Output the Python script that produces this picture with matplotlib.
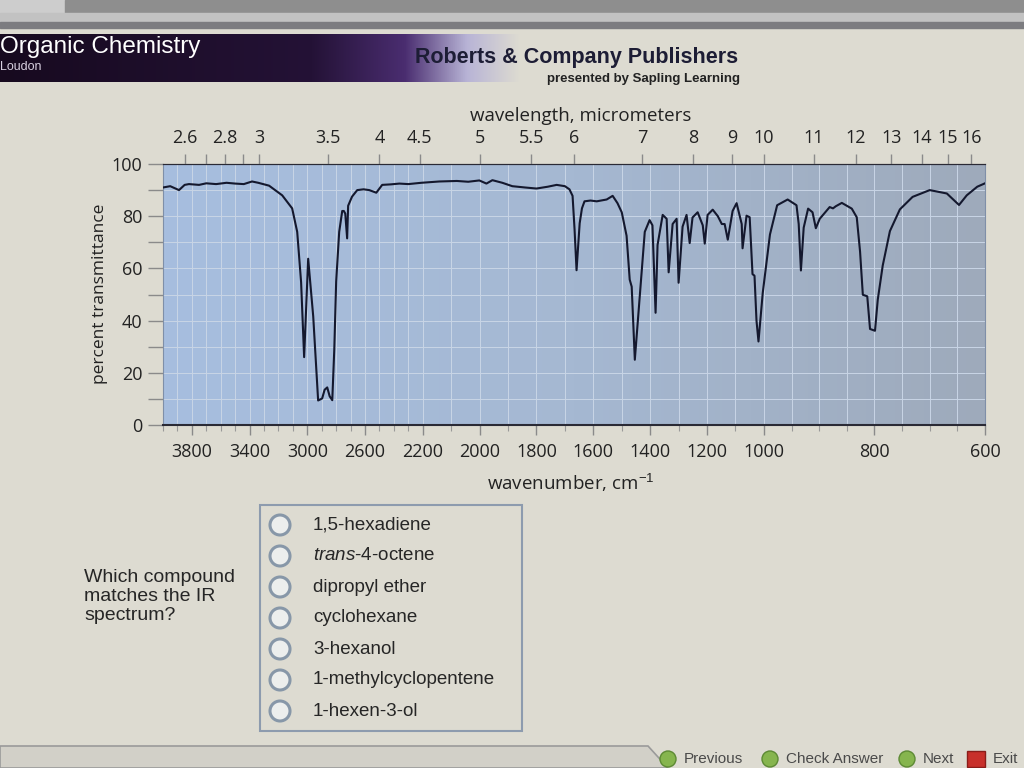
import numpy as np
import matplotlib.pyplot as plt
from matplotlib.patches import Rectangle, Circle, Polygon
from matplotlib.colors import LinearSegmentedColormap

plt.rcParams['mathtext.fontset'] = 'custom'
plt.rcParams['mathtext.rm'] = 'Liberation Sans'
plt.rcParams['mathtext.it'] = 'Liberation Sans:italic'

# IR spectrum: wavenumber (cm-1) and percent transmittance
wavenumber = [4000, 3950, 3889, 3850, 3820, 3750, 3700, 3632, 3560, 3500, 3440, 3383, 3340,
              3265, 3174, 3105, 3070, 3043, 3022, 2994, 2959, 2925, 2910, 2897, 2880, 2862,
              2845, 2827, 2813, 2800, 2779, 2758, 2747, 2737, 2724, 2717, 2690, 2654, 2610,
              2571, 2522, 2481, 2420, 2362, 2300, 2210, 2142, 2080, 2040, 2001, 1976, 1955,
              1920, 1885, 1840, 1800, 1760, 1729, 1700, 1684, 1673, 1666, 1659, 1648, 1640,
              1631, 1610, 1588, 1553, 1532, 1515, 1500, 1483, 1472, 1465, 1454, 1437, 1419,
              1402, 1392, 1381, 1374, 1356, 1342, 1335, 1321, 1307, 1300, 1286, 1272, 1261,
              1251, 1233, 1215, 1208, 1198, 1180, 1162, 1148, 1138, 1127, 1110, 1096, 1078,
              1075, 1061, 1050, 1040, 1033, 1026, 1019, 1004, 989, 976, 957, 941, 937, 933,
              928, 920, 912, 906, 899, 881, 875, 870, 859, 841, 832, 826, 821, 813, 808, 799,
              794, 785, 772, 754, 731, 700, 669, 647, 633, 614, 600]
transmittance = [91.0, 91.5, 90.0, 92.0, 92.3, 92.0, 92.6, 92.3, 92.8, 92.5, 92.3, 93.3, 92.8,
                 91.7, 88.0, 83.0, 74.0, 54.7, 26.0, 63.7, 41.6, 9.4, 9.8, 10.2, 13.5, 14.4,
                 11.0, 9.5, 29.0, 55.0, 74.0, 82.0, 82.0, 81.0, 71.5, 84.0, 87.5, 90.0, 90.3,
                 90.0, 89.0, 92.0, 92.2, 92.5, 92.3, 92.8, 93.3, 93.5, 93.2, 93.7, 92.5, 93.8,
                 92.8, 91.5, 91.0, 90.6, 91.3, 92.0, 91.5, 90.3, 87.8, 75.0, 59.3, 77.3, 83.0,
                 85.7, 86.0, 85.7, 86.4, 87.8, 85.0, 81.5, 72.5, 55.7, 53.0, 25.0, 49.0, 74.0,
                 78.5, 76.5, 43.0, 69.0, 80.5, 79.0, 58.5, 77.0, 79.0, 54.5, 76.0, 80.5, 69.7,
                 79.5, 81.5, 76.5, 69.5, 80.5, 82.5, 80.0, 77.0, 77.0, 71.0, 82.0, 85.0, 77.0,
                 67.7, 80.2, 79.6, 57.8, 57.2, 40.0, 32.0, 50.6, 73.0, 84.2, 86.4, 84.2, 77.0, 59.2,
                 75.6, 82.9, 81.5, 75.4, 79.0, 83.5, 83.0, 83.8, 85.1, 82.9, 79.6, 66.4, 49.9, 49.3, 36.8, 36.1,
                 48.0, 61.1, 74.3, 82.6, 87.4, 90.0, 88.7, 84.3, 88.0, 91.3, 92.6]

wn_ticks = [3800, 3400, 3000, 2600, 2200, 2000, 1800, 1600, 1400, 1200, 1000, 800, 600]
um_ticks = [2.6, 2.8, 3, 3.5, 4, 4.5, 5, 5.5, 6, 7, 8, 9, 10, 11, 12, 13, 14, 15, 16]
um_labels = ['2.6', '2.8', '3', '3.5', '4', '4.5', '5', '5.5', '6', '7', '8', '9', '10',
             '11', '12', '13', '14', '15', '16']
um_minor = [2.7, 2.9]
pt_ticks = [0, 20, 40, 60, 80, 100]
pt_minor = [10, 30, 50, 70, 90]
grid_wn = list(range(4000, 2200, -100)) + list(range(2200, 1000, -100)) + list(range(1000, 599, -50))

choices = ['1,5-hexadiene', r'$\mathit{trans}$-4-octene', 'dipropyl ether', 'cyclohexane',
           '3-hexanol', '1-methylcyclopentene', '1-hexen-3-ol']
question = ['Which compound', 'matches the IR', 'spectrum?']

# the chart's wavenumber axis is compressed in three pieces
brk_w = [600, 1000, 2200, 4000]
brk_p = [0.0, 0.269, 0.684, 1.0]

def fwd(w):
    return np.interp(w, brk_w, brk_p)

def inv(p):
    return np.interp(p, brk_p, brk_w)

W, H = 1024, 768
page = '#dddbd1'
fig = plt.figure(figsize=(10.24, 7.68), dpi=100)
fig.patch.set_facecolor(page)

# page background in pixel coordinates
bg = fig.add_axes([0, 0, 1, 1], zorder=0)
bg.set_xlim(0, W)
bg.set_ylim(H, 0)
bg.axis('off')

bg.add_patch(Rectangle((0, 0), 65, 13, color='#cdcdcd'))
bg.add_patch(Rectangle((65, 0), W - 65, 13, color='#8e8e8e'))
bg.add_patch(Rectangle((0, 13), W, 9, color='#c2c2c2'))
bg.add_patch(Rectangle((0, 22), W, 6, color='#7c7c80'))

banner = LinearSegmentedColormap.from_list('banner', [(0, '#170a1f'), (0.6, '#241236'),
                                                      (0.78, '#4a2d70'), (0.9, '#b8b4d6'),
                                                      (1.0, page)])
bg.imshow(np.linspace(0, 1, 256).reshape(1, -1), cmap=banner, aspect='auto',
          extent=[0, 520, 82, 34], zorder=1)

bg.text(0, 47, 'Organic Chemistry', color='white', fontsize=17.5, va='center', ha='left',
        family='Liberation Sans', zorder=3)
bg.text(0, 67, 'Loudon', color='#d8d0e0', fontsize=9, va='center', ha='left',
        family='Liberation Sans', zorder=3)
bg.text(577, 57, 'Roberts & Company Publishers', color='#1d1d35', fontsize=15.5,
        weight='bold', ha='center', va='center', family='Liberation Sans', zorder=3)
bg.text(740, 79, 'presented by Sapling Learning', color='#222222', fontsize=9.5,
        weight='bold', ha='right', va='center', family='Liberation Sans', zorder=3)

# plot area fill
x0, x1, y0, y1 = 163, 985, 164, 425
fill = LinearSegmentedColormap.from_list('fill', ['#a7bedf', '#a5b8d2', '#9eaabb'])
bg.imshow(np.linspace(0, 1, 256).reshape(1, -1), cmap=fill, aspect='auto',
          extent=[x0, x1, y1, y0], zorder=1)

# question panel
for i, line in enumerate(question):
    bg.text(84, 578 + 18.5 * i, line, fontsize=14, va='center', ha='left', color='#262626',
            family='Liberation Sans')
bg.add_patch(Rectangle((260, 505), 262, 226, fill=False, ec='#8d9bae', lw=1.5))
for i, c in enumerate(choices):
    yy = 525 + 31 * i
    bg.add_patch(Circle((280, yy), 10, fc='#eceeed', ec='#8797a8', lw=2.2))
    bg.text(313, yy, c, fontsize=13.5, va='center', ha='left', color='#262626',
            family='Liberation Sans')

# bottom navigation bar
bg.add_patch(Polygon([(0, 746), (648, 746), (668, 768), (0, 768)], closed=True,
                     fc='#d2d0c8', ec='#9a9a9a', lw=1.2))
for xc, label in [(668, 'Previous'), (770, 'Check Answer'), (907, 'Next')]:
    bg.add_patch(Circle((xc, 759), 8, fc='#86b54e', ec='#5d8a34', lw=1))
    bg.text(xc + 16, 759, label, fontsize=11, va='center', ha='left', color='#4a4a4a',
            family='Liberation Sans')
bg.add_patch(Rectangle((967, 751), 18, 16, fc='#c8302b', ec='#8a1d1a', lw=1))
bg.text(993, 759, 'Exit', fontsize=11, va='center', ha='left', color='#4a4a4a',
        family='Liberation Sans')

# spectrum axes
ax = fig.add_axes([x0 / W, 1 - y1 / H, (x1 - x0) / W, (y1 - y0) / H], zorder=2)
ax.set_facecolor('none')
ax.set_xscale('function', functions=(fwd, inv))
ax.plot(wavenumber, transmittance, color='#14182e', lw=1.5, zorder=3)
ax.set_xlim(4000, 600)
ax.set_ylim(0, 100)

ax.set_xticks(wn_ticks)
ax.set_xticklabels([str(t) for t in wn_ticks])
ax.set_xticks(grid_wn, minor=True)
ax.set_yticks(pt_ticks)
ax.set_yticks(pt_minor, minor=True)
ax.grid(True, which='both', color='#c9d5e6', lw=0.7, zorder=1)

tick_font = {'family': 'Open Sans', 'size': 13}
for lab in ax.get_xticklabels() + ax.get_yticklabels():
    lab.set_fontfamily('Open Sans')
    lab.set_fontsize(13)
    lab.set_color('#222222')
ax.tick_params(axis='x', which='major', length=7, width=1, color='#8a8a8a', pad=6)
ax.tick_params(axis='x', which='minor', length=4, width=0.8, color='#9a9a9a')
ax.tick_params(axis='y', which='both', length=11, width=1, color='#8a8a8a', pad=4)

ax.spines['top'].set_color('#2a2a35')
ax.spines['bottom'].set_color('#2a2a35')
ax.spines['bottom'].set_linewidth(1.5)
ax.spines['left'].set_color('#7f8fa8')
ax.spines['right'].set_color('#7f8fa8')

# wavelength axis on top
ax2 = ax.twiny()
ax2.set_xscale('function', functions=(fwd, inv))
ax2.set_xlim(4000, 600)
ax2.set_xticks([1e4 / u for u in um_ticks])
ax2.set_xticklabels(um_labels, fontdict=tick_font, color='#222222')
ax2.set_xticks([1e4 / u for u in um_minor], minor=True)
ax2.tick_params(axis='x', which='major', length=7, width=1, color='#8a8a8a', pad=5)
ax2.tick_params(axis='x', which='minor', length=7, width=1, color='#8a8a8a')
for s in ['left', 'right', 'bottom']:
    ax2.spines[s].set_visible(False)
ax2.spines['top'].set_color('#2a2a35')

fig.text(581 / W, 1 - 116 / H, 'wavelength, micrometers', ha='center', va='center',
         fontsize=13.5, family='Open Sans', color='#222222')
fig.text(571 / W, 1 - 483 / H, 'wavenumber, cm$^{-1}$', ha='center', va='center',
         fontsize=13.5, family='Open Sans', color='#222222')
fig.text(100 / W, 1 - 294 / H, 'percent transmittance', ha='center', va='center',
         rotation=90, fontsize=12.5, family='Open Sans', color='#222222')

fig.savefig('out.png', dpi=100, facecolor=fig.get_facecolor())
